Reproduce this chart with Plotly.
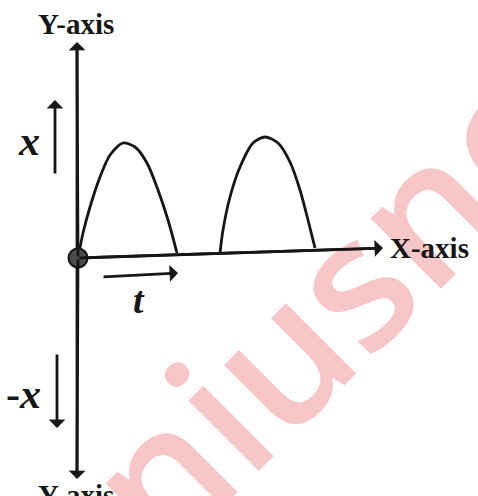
import plotly.graph_objects as go

# ---- data (pixel-like coordinates, y grows downward) ----
hump1_x = [79, 83, 90, 100, 110, 123, 135, 147, 158, 168, 177]
hump1_y = [253, 233, 207, 177, 155, 143, 147, 163, 190, 220, 253]
hump2_x = [220, 223, 230, 240, 253, 265, 278, 290, 300, 308, 315]
hump2_y = [253, 230, 197, 167, 143, 137, 143, 162, 190, 220, 248]

origin = (78, 258)
x_axis_end = (383, 248)
y_axis_top = (77, 42)
y_axis_bottom = (77, 479)

labels_text = ["Y-axis", "Y-axis", "X-axis", "<i>x</i>", "-<i>x</i>", "<i>t</i>"]
watermark_text = "niusno"

INK = "#161616"
SERIF = "Liberation Serif"

fig = go.Figure()

# humps
for hx, hy in ((hump1_x, hump1_y), (hump2_x, hump2_y)):
    fig.add_trace(go.Scatter(x=hx, y=hy, mode="lines",
                             line=dict(color=INK, width=2.8, shape="spline", smoothing=0.8),
                             hoverinfo="skip", showlegend=False))

# Y axis line (both directions)
fig.add_trace(go.Scatter(x=[y_axis_top[0], y_axis_bottom[0]], y=[y_axis_top[1] + 8, y_axis_bottom[1] - 8],
                         mode="lines", line=dict(color=INK, width=2.8),
                         hoverinfo="skip", showlegend=False))
# X axis line
fig.add_trace(go.Scatter(x=[origin[0], x_axis_end[0] - 8], y=[origin[1], x_axis_end[1] + 0.3],
                         mode="lines", line=dict(color=INK, width=2.8),
                         hoverinfo="skip", showlegend=False))
# origin dot
fig.add_trace(go.Scatter(x=[origin[0]], y=[origin[1]], mode="markers",
                         marker=dict(size=19, color="#4a4a4a", line=dict(color=INK, width=2)),
                         hoverinfo="skip", showlegend=False))

annotations = []
# watermark (first so that it sits beneath other annotations)
annotations.append(dict(x=328, y=300, xref="x", yref="y", text=watermark_text, showarrow=False,
                        textangle=-45,
                        font=dict(family="Open Sans", size=184, color="rgba(236,120,120,0.42)", weight=600)))


def arrow(tail, head, width=2.8):
    return dict(x=head[0], y=head[1], ax=tail[0], ay=tail[1], xref="x", yref="y",
                axref="x", ayref="y", text="", showarrow=True, arrowhead=1,
                arrowsize=1.0, arrowwidth=width, arrowcolor=INK)


annotations.append(arrow(origin, y_axis_top))
annotations.append(arrow(origin, y_axis_bottom))
annotations.append(arrow(origin, x_axis_end))
annotations.append(arrow((55, 175), (55, 100), 2.8))
annotations.append(arrow((57, 353), (57, 428), 2.8))
annotations.append(arrow((102, 277), (178, 273), 2.8))

label_pos = [(76, 24), (76, 495), (429, 248), (29, 141), (23, 394), (139, 300)]
label_size = [29, 29, 29, 42, 42, 38]
for txt, (lx, ly), sz in zip(labels_text, label_pos, label_size):
    annotations.append(dict(x=lx, y=ly, xref="x", yref="y", text=f"<b>{txt}</b>", showarrow=False,
                            font=dict(family=SERIF, size=sz, color=INK)))

fig.update_layout(
    width=478, height=496,
    margin=dict(l=0, r=0, t=0, b=0),
    paper_bgcolor="white", plot_bgcolor="white",
    xaxis=dict(range=[0, 478], visible=False, fixedrange=True),
    yaxis=dict(range=[496, 0], visible=False, fixedrange=True),
    annotations=annotations,
    showlegend=False,
)

fig.write_html("out.html", config={"displayModeBar": False},
               post_script="document.body.style.margin='0';")
